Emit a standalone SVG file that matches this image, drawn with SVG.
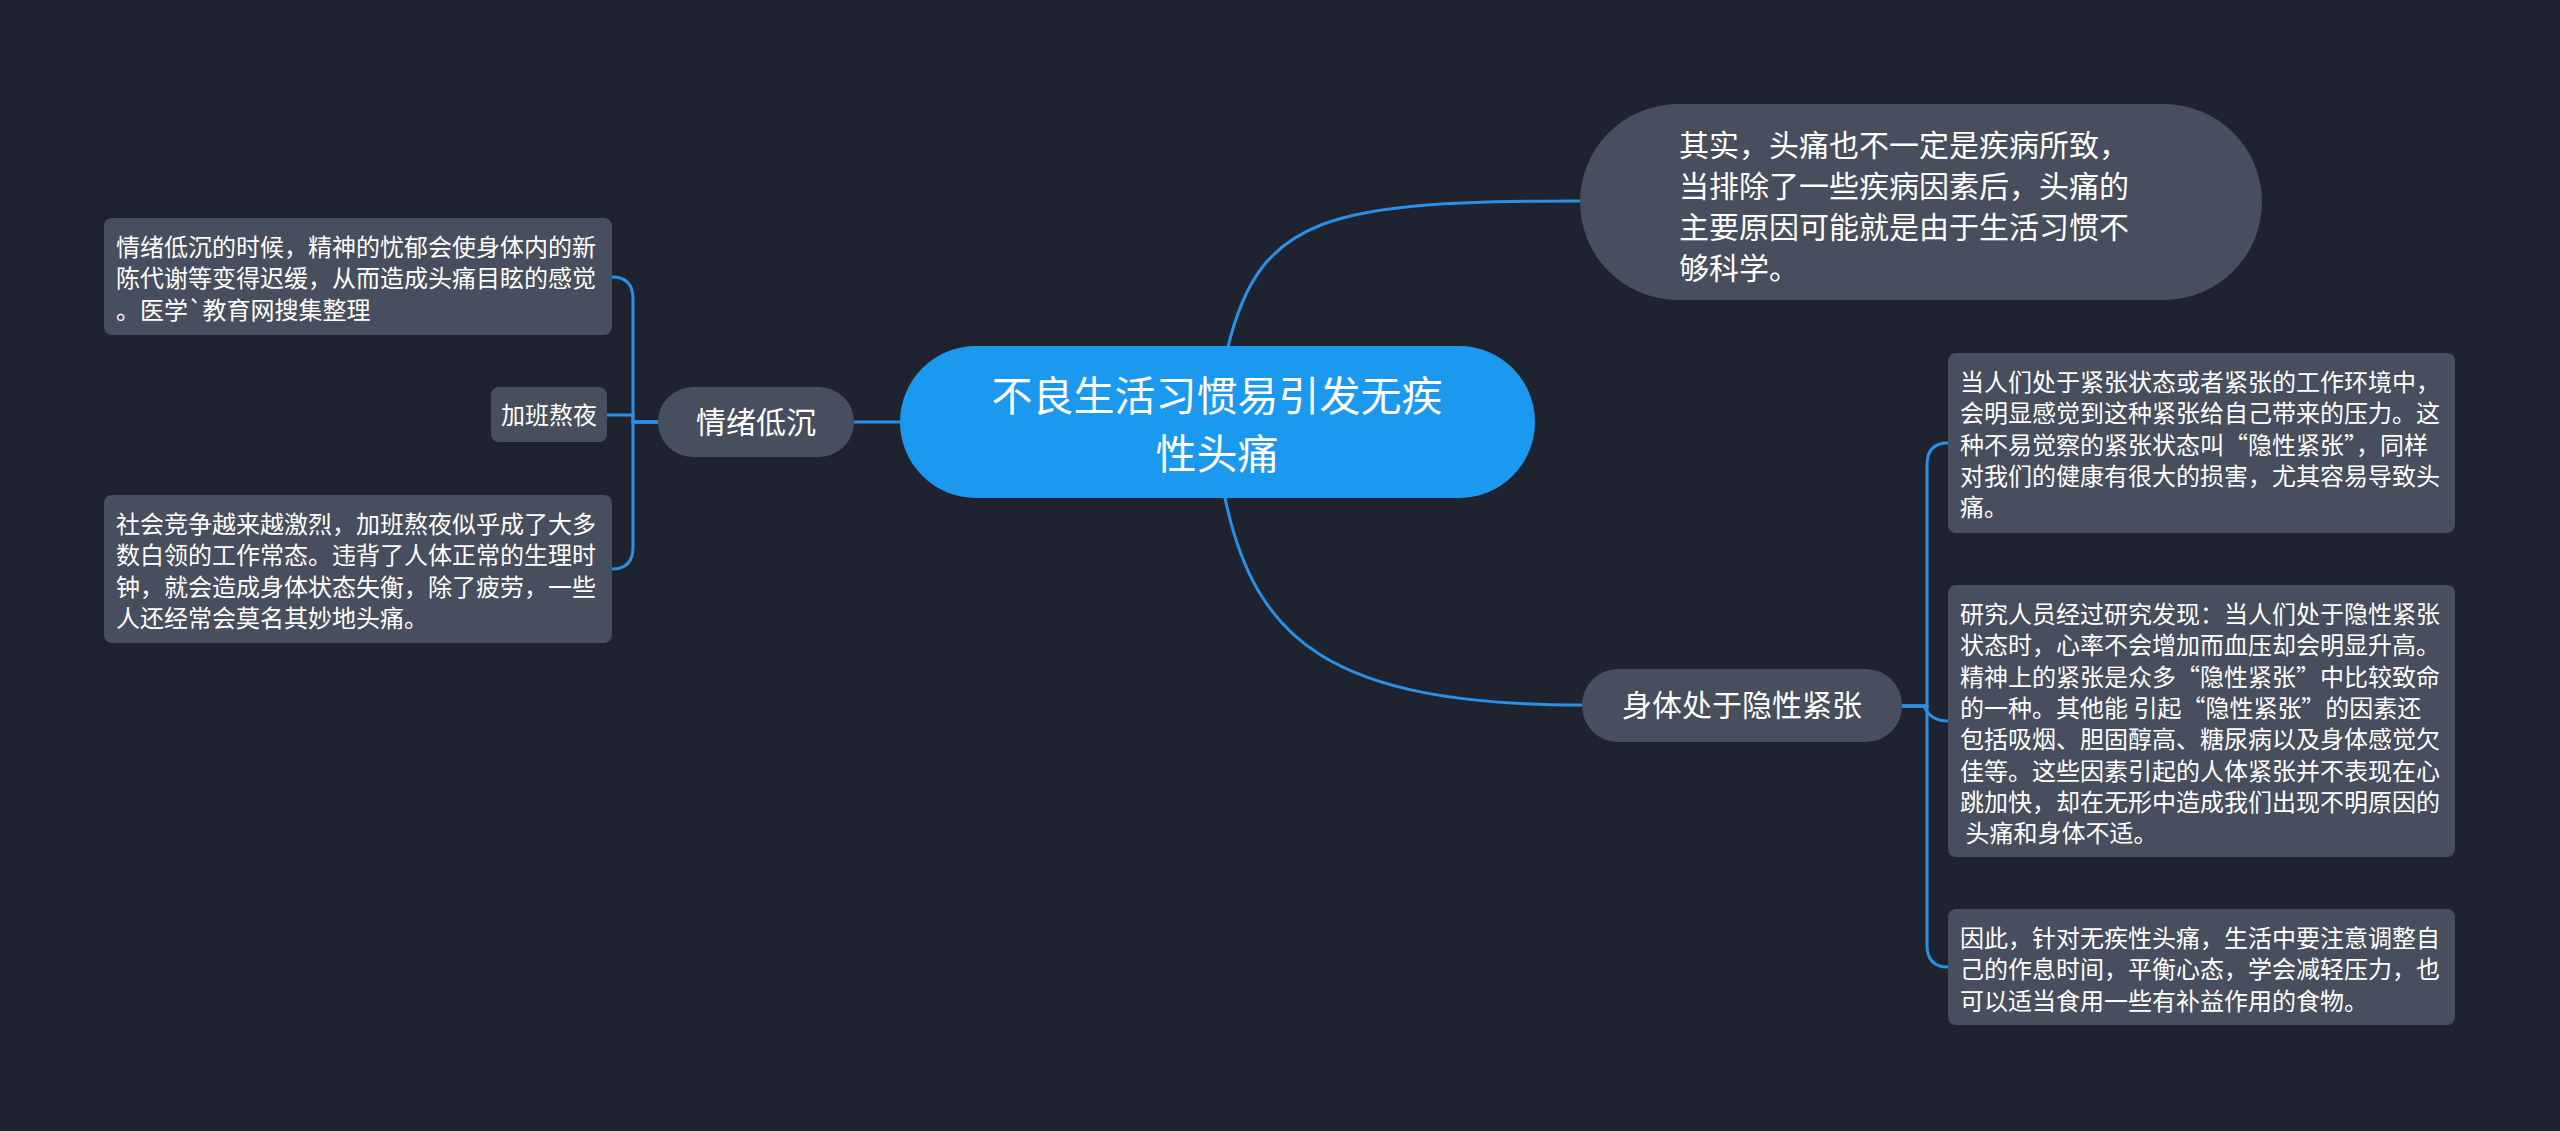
<svg xmlns="http://www.w3.org/2000/svg" width="2560" height="1131" viewBox="0 0 2560 1131">
<style>
text{font-family:"Noto Sans CJK SC","Noto Sans",sans-serif;fill:#ffffff;white-space:pre}
.box{fill:#474e5d}
.t24{font-size:24px}
.t30{font-size:30px}
.mid{text-anchor:middle}
.conn path{fill:none;stroke:#2a8fe6;stroke-width:3;stroke-linecap:round}
</style>
<rect x="0" y="0" width="2560" height="1131" fill="#1f2330"/>
<g class="conn" id="connectors">
<path d="M1228 347 C1260 215 1330 201 1580 201"/>
<path d="M1225 498 C1255 640 1330 705 1582 705"/>
<path d="M900 422 H854"/>
<path d="M658 422 H633 V415 H607"/>
<path d="M658 422 H633 V299 Q633 277 612 277"/>
<path d="M658 422 H633 V547 Q633 569 612 569"/>
<path d="M1902 706 H1927 V465 Q1927 443 1948 443"/>
<path d="M1902 706 H1924 Q1930 721 1948 721"/>
<path d="M1902 706 H1927 V945 Q1927 967 1948 967"/>
</g>
<g id="root">
<rect x="900" y="346" width="635" height="152" rx="76" fill="#1a99ef"/>
<text class="mid" x="1217" y="411" font-size="41">不良生活习惯易引发无疾</text>
<text class="mid" x="1217" y="469" font-size="41">性头痛</text>
</g>
<g id="n-top">
<rect class="box" x="1580" y="104" width="682" height="196" rx="98"/>
<text class="t30" x="1679" y="156">其实，头痛也不一定是疾病所致，</text>
<text class="t30" x="1679" y="197">当排除了一些疾病因素后，头痛的</text>
<text class="t30" x="1679" y="238">主要原因可能就是由于生活习惯不</text>
<text class="t30" x="1679" y="279">够科学。</text>
</g>
<g id="n-mood">
<rect class="box" x="658" y="387" width="196" height="70" rx="35"/>
<text class="t30 mid" x="756" y="433">情绪低沉</text>
</g>
<g id="n-overtime">
<rect class="box" x="491" y="387" width="116" height="55" rx="8"/>
<text class="t24 mid" x="549" y="424">加班熬夜</text>
</g>
<g id="n-left1">
<rect class="box" x="104" y="218" width="508" height="117" rx="8"/>
<text class="t24" x="116" y="256">情绪低沉的时候，精神的忧郁会使身体内的新</text>
<text class="t24" x="116" y="287">陈代谢等变得迟缓，从而造成头痛目眩的感觉</text>
<text class="t24" x="116" y="319">。医学`教育网搜集整理</text>
</g>
<g id="n-left2">
<rect class="box" x="104" y="495" width="508" height="148" rx="8"/>
<text class="t24" x="116" y="533">社会竞争越来越激烈，加班熬夜似乎成了大多</text>
<text class="t24" x="116" y="564">数白领的工作常态。违背了人体正常的生理时</text>
<text class="t24" x="116" y="596">钟，就会造成身体状态失衡，除了疲劳，一些</text>
<text class="t24" x="116" y="627">人还经常会莫名其妙地头痛。</text>
</g>
<g id="n-tension">
<rect class="box" x="1582" y="669" width="320" height="73" rx="36"/>
<text class="t30 mid" x="1742" y="716">身体处于隐性紧张</text>
</g>
<g id="n-right1">
<rect class="box" x="1948" y="353" width="507" height="180" rx="8"/>
<text class="t24" x="1960" y="391">当人们处于紧张状态或者紧张的工作环境中，</text>
<text class="t24" x="1960" y="422">会明显感觉到这种紧张给自己带来的压力。这</text>
<text class="t24" x="1960" y="454">种不易觉察的紧张状态叫“隐性紧张”，同样</text>
<text class="t24" x="1960" y="485">对我们的健康有很大的损害，尤其容易导致头</text>
<text class="t24" x="1960" y="516">痛。</text>
</g>
<g id="n-right2">
<rect class="box" x="1948" y="585" width="507" height="272" rx="8"/>
<text class="t24" x="1960" y="623">研究人员经过研究发现：当人们处于隐性紧张</text>
<text class="t24" x="1960" y="654">状态时，心率不会增加而血压却会明显升高。</text>
<text class="t24" x="1960" y="686">精神上的紧张是众多“隐性紧张”中比较致命</text>
<text class="t24" x="1960" y="717">的一种。其他能 引起“隐性紧张”的因素还</text>
<text class="t24" x="1960" y="748">包括吸烟、胆固醇高、糖尿病以及身体感觉欠</text>
<text class="t24" x="1960" y="780">佳等。这些因素引起的人体紧张并不表现在心</text>
<text class="t24" x="1960" y="811">跳加快，却在无形中造成我们出现不明原因的</text>
<text class="t24" x="1960" y="842"> 头痛和身体不适。</text>
</g>
<g id="n-right3">
<rect class="box" x="1948" y="909" width="507" height="116" rx="8"/>
<text class="t24" x="1960" y="947">因此，针对无疾性头痛，生活中要注意调整自</text>
<text class="t24" x="1960" y="978">己的作息时间，平衡心态，学会减轻压力，也</text>
<text class="t24" x="1960" y="1010">可以适当食用一些有补益作用的食物。</text>
</g>
</svg>
